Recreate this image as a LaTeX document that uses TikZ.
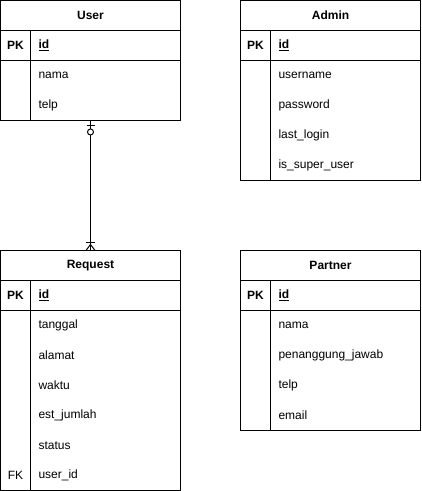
\documentclass[tikz,border=0pt]{standalone}
\usepackage{fontspec}
\setmainfont{Liberation Sans}
\usetikzlibrary{positioning,fit,calc}

\begin{document}
\begin{tikzpicture}[line width=0.75pt, font=\fontsize{9}{11}\selectfont]

    \tikzstyle{tblhead} = [rectangle, draw=black, minimum width=135pt, minimum height=22.5pt, inner sep=0pt, outer sep=0pt, font=\fontsize{9}{11}\selectfont\bfseries]
    \tikzstyle{keycell} = [rectangle, minimum width=22.5pt, minimum height=22.5pt, inner sep=0pt, outer sep=0pt]
    \tikzstyle{attrcell} = [rectangle, minimum width=112.5pt, minimum height=22.5pt, inner xsep=6pt, inner ysep=0pt, outer sep=0pt, text width=100.5pt, align=left]
    \tikzstyle{tblframe} = [rectangle, draw=black, inner sep=0pt, outer sep=0pt]

    \useasboundingbox (0,0) rectangle (315.75pt,-368.25pt);

    % User
    \node (user)    [tblhead] at (67.875pt,-11.625pt)                 {User};
    \node (upk)     [keycell, below=0pt of user.south west, anchor=north west] {\textbf{PK}};
    \node (uid)     [attrcell, right=0pt of upk]                     {\textbf{\underline{id}}};
    \node (uk1)     [keycell, below=0pt of upk]                      {};
    \node (unama)   [attrcell, right=0pt of uk1]                     {nama};
    \node (uk2)     [keycell, below=0pt of uk1]                      {};
    \node (utelp)   [attrcell, right=0pt of uk2]                     {telp};
    \node (upkrow)  [tblframe, fit=(upk)(uid)]                       {};
    \node (ubody)   [tblframe, fit=(uk1)(utelp)]                     {};
    \draw (upk.north east) -- (uk2.south east);

    % Admin
    \node (admin)   [tblhead, right=45pt of user]                    {Admin};
    \node (apk)     [keycell, below=0pt of admin.south west, anchor=north west] {\textbf{PK}};
    \node (aid)     [attrcell, right=0pt of apk]                     {\textbf{\underline{id}}};
    \node (ak1)     [keycell, below=0pt of apk]                      {};
    \node (auser)   [attrcell, right=0pt of ak1]                     {username};
    \node (ak2)     [keycell, below=0pt of ak1]                      {};
    \node (apass)   [attrcell, right=0pt of ak2]                     {password};
    \node (ak3)     [keycell, below=0pt of ak2]                      {};
    \node (alast)   [attrcell, right=0pt of ak3]                     {last\_login};
    \node (ak4)     [keycell, below=0pt of ak3]                      {};
    \node (asuper)  [attrcell, right=0pt of ak4]                     {is\_super\_user};
    \node (apkrow)  [tblframe, fit=(apk)(aid)]                       {};
    \node (abody)   [tblframe, fit=(ak1)(asuper)]                    {};
    \draw (apk.north east) -- (ak4.south east);

    % Request
    \node (request) [tblhead, below=97.5pt of ubody]                 {Request};
    \node (rpk)     [keycell, below=0pt of request.south west, anchor=north west] {\textbf{PK}};
    \node (rid)     [attrcell, right=0pt of rpk]                     {\textbf{\underline{id}}};
    \node (rk1)     [keycell, below=0pt of rpk]                      {};
    \node (rtgl)    [attrcell, right=0pt of rk1]                     {tanggal};
    \node (rk2)     [keycell, below=0pt of rk1]                      {};
    \node (ralamat) [attrcell, right=0pt of rk2]                     {alamat};
    \node (rk3)     [keycell, below=0pt of rk2]                      {};
    \node (rwaktu)  [attrcell, right=0pt of rk3]                     {waktu};
    \node (rk4)     [keycell, below=0pt of rk3]                      {};
    \node (rest)    [attrcell, right=0pt of rk4]                     {est\_jumlah};
    \node (rk5)     [keycell, below=0pt of rk4]                      {};
    \node (rstatus) [attrcell, right=0pt of rk5]                     {status};
    \node (rk6)     [keycell, below=0pt of rk5]                      {FK};
    \node (ruser)   [attrcell, right=0pt of rk6]                     {user\_id};
    \node (rpkrow)  [tblframe, fit=(rpk)(rid)]                       {};
    \node (rbody)   [tblframe, fit=(rk1)(ruser)]                     {};
    \draw (rpk.north east) -- (rk6.south east);

    % Partner
    \node (partner) [tblhead, right=45pt of request]                 {Partner};
    \node (ppk)     [keycell, below=0pt of partner.south west, anchor=north west] {\textbf{PK}};
    \node (pid)     [attrcell, right=0pt of ppk]                     {\textbf{\underline{id}}};
    \node (pk1)     [keycell, below=0pt of ppk]                      {};
    \node (pnama)   [attrcell, right=0pt of pk1]                     {nama};
    \node (pk2)     [keycell, below=0pt of pk1]                      {};
    \node (ppj)     [attrcell, right=0pt of pk2]                     {penanggung\_jawab};
    \node (pk3)     [keycell, below=0pt of pk2]                      {};
    \node (ptelp)   [attrcell, right=0pt of pk3]                     {telp};
    \node (pk4)     [keycell, below=0pt of pk3]                      {};
    \node (pemail)  [attrcell, right=0pt of pk4]                     {email};
    \node (ppkrow)  [tblframe, fit=(ppk)(pid)]                       {};
    \node (pbody)   [tblframe, fit=(pk1)(pemail)]                    {};
    \draw (ppk.north east) -- (pk4.south east);

    % User 1 -- n Request
    \draw (ubody.south) -- (request.north);
    \draw ($(ubody.south)+(-3pt,-3.75pt)$) -- ++(6pt,0);
    \draw[fill=white] ($(ubody.south)+(0,-8.6pt)$) circle (2.25pt);
    \draw ($(request.north)+(-3.4pt,6pt)$) -- ++(6.8pt,0);
    \draw ($(request.north)+(-3.4pt,0)$) -- ($(request.north)+(0,4.5pt)$) -- ($(request.north)+(3.4pt,0)$);

\end{tikzpicture}
\end{document}
